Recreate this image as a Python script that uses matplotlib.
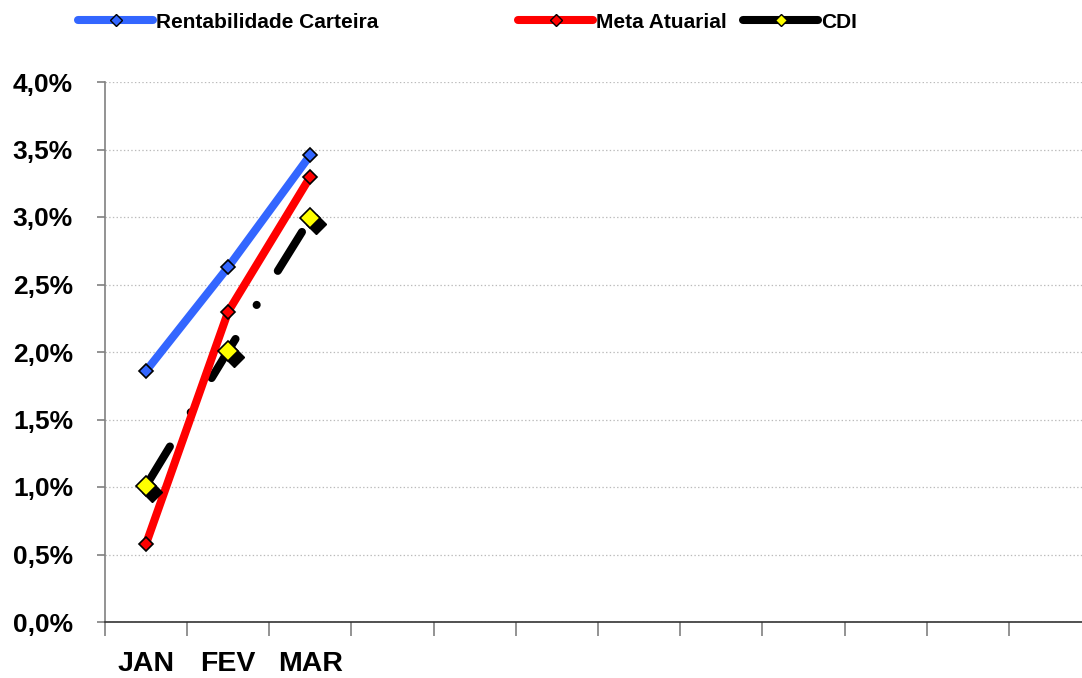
import numpy as np
import matplotlib
matplotlib.use('Agg')
import matplotlib.pyplot as plt
import matplotlib.transforms as mtransforms
from matplotlib.lines import Line2D
from matplotlib.ticker import FuncFormatter

plt.rcParams['font.family'] = ['Liberation Sans', 'DejaVu Sans']
plt.rcParams['font.weight'] = 'bold'
plt.rcParams['lines.scale_dashes'] = False

months = ['JAN', 'FEV', 'MAR']
n_slots = 12
rentabilidade = [1.86, 2.63, 3.46]
meta = [0.58, 2.30, 3.30]
cdi = [1.01, 2.01, 2.99]

blue = '#3366FF'
red = '#FF0000'

fig = plt.figure(figsize=(10.82, 6.78), dpi=100)
ax = fig.add_axes([105/1082, 56/678, 986/1082, 540/678])

x = np.arange(len(months))

ax.plot(x, rentabilidade, color=blue, lw=5.8, marker='D', ms=7.5,
        mfc=blue, mec='black', mew=1.2, solid_capstyle='round', zorder=4)
ax.plot(x, meta, color=red, lw=5.8, marker='D', ms=7.5,
        mfc=red, mec='black', mew=1.2, solid_capstyle='round', zorder=3)

# CDI: dash-dot black line, shadowed yellow diamonds
ax.plot(x, cdi, color='black', lw=5.8, zorder=2, dash_capstyle='round',
        linestyle=(0, (33, 28.8, 0.1, 28.8)))
shadow = mtransforms.offset_copy(ax.transData, fig=fig, x=6, y=-6, units='dots')
ax.plot(x, cdi, ls='none', marker='D', ms=10, mfc='black', mec='black',
        transform=shadow, zorder=5)
ax.plot(x, cdi, ls='none', marker='D', ms=10, mfc='#FFFF00', mec='black',
        mew=1.2, zorder=6)

ax.set_xlim(-0.5, n_slots - 0.5)
ax.set_ylim(0, 4.0)

yt = np.arange(0, 4.01, 0.5)
ax.set_yticks(yt)
ax.yaxis.set_major_formatter(FuncFormatter(lambda v, p: f'{v:.1f}%'.replace('.', ',')))
ax.tick_params(axis='y', length=6, width=1.2, color='#808080', labelsize=19, pad=17)
for lab in ax.get_yticklabels():
    lab.set_fontweight('bold')

ax.set_xticks(np.arange(n_slots + 1) - 0.5)
ax.set_xticklabels([])
ax.set_xticks(x, minor=True)
ax.set_xticklabels(months, minor=True, fontsize=20.5, fontweight='bold')
ax.tick_params(axis='x', which='major', length=10, width=1.2, color='#808080')
ax.tick_params(axis='x', which='minor', length=0, pad=21)

ax.grid(axis='y', color='#BBBBBB', ls=':', lw=0.9)
ax.set_axisbelow(True)
for s in ['top', 'right']:
    ax.spines[s].set_visible(False)
ax.spines['left'].set_color('#808080')
ax.spines['left'].set_linewidth(1.2)
ax.spines['bottom'].set_color('#333333')
ax.spines['bottom'].set_linewidth(1.2)

# legend entries laid out along the top
entries = [
    (Line2D([], [], color=blue, lw=5.8, marker='D', ms=6, mfc=blue, mec='black',
            solid_capstyle='round'), 'Rentabilidade Carteira', 78),
    (Line2D([], [], color=red, lw=5.8, marker='D', ms=6, mfc=red, mec='black',
            solid_capstyle='round'), 'Meta Atuarial', 518),
    (Line2D([], [], color='black', lw=5.8, marker='D', ms=6, mfc='#FFFF00', mec='black',
            solid_capstyle='round'), 'CDI', 743),
]
for h, lbl, px in entries:
    fig.legend([h], [lbl], loc='center left', bbox_to_anchor=(px/1082, 1 - 22/678),
               frameon=False, handlelength=3.6, handletextpad=0.15,
               borderpad=0, borderaxespad=0,
               prop={'weight': 'bold', 'size': 15})

fig.savefig('out.png', dpi=100)
